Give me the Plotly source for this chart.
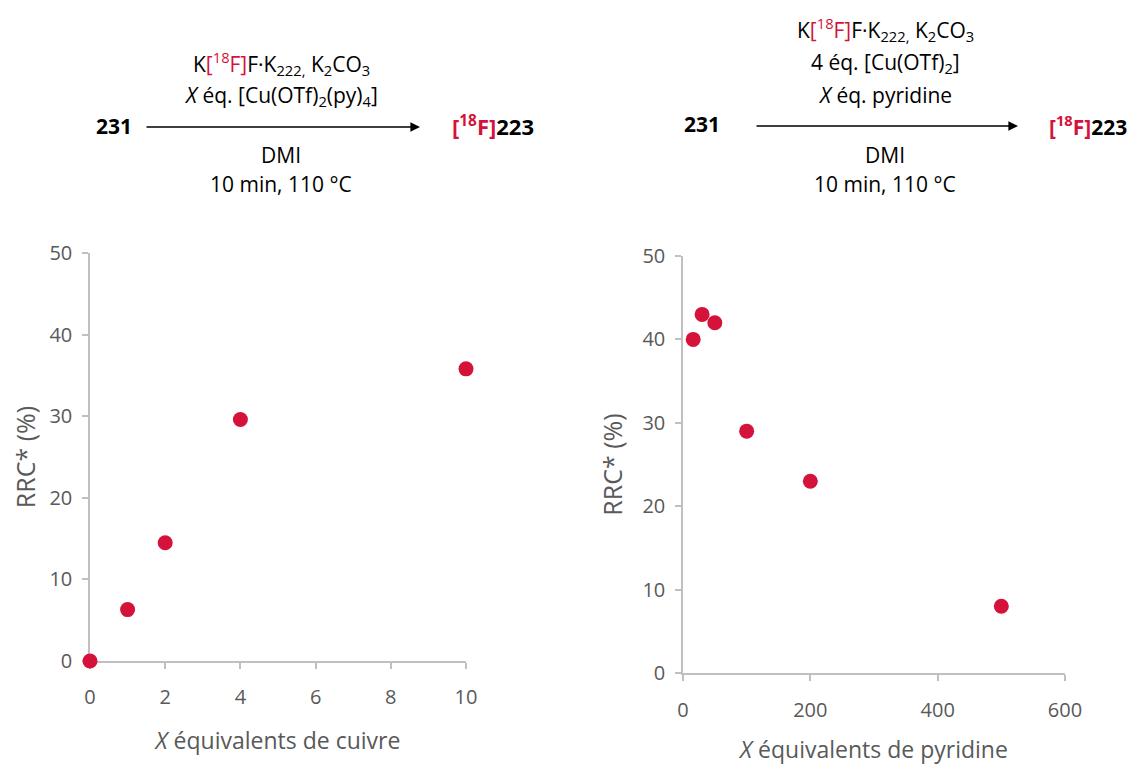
import plotly.graph_objects as go

W, H = 1138, 764
OFF = 8  # page body margin

# Data
cu_eq = [0, 1, 2, 4, 10]
cu_rrc = [0, 6.3, 14.5, 29.6, 35.8]
py_eq = [16, 30, 50, 100, 200, 500]
py_rrc = [40, 43, 42, 29, 23, 8]

x1_ticks = [0, 2, 4, 6, 8, 10]
x2_ticks = [0, 200, 400, 600]
y_ticks = [0, 10, 20, 30, 40, 50]

RED = "#d4123a"
GREY_TXT = "#595959"
AX = "#c0c0c0"
FONT = "Open Sans"

def px(x):
    return (x - OFF) / W

def py(y):
    return 1 - (y - OFF) / H

fig = go.Figure()
fig.add_trace(go.Scatter(x=cu_eq, y=cu_rrc, mode="markers",
                         marker=dict(color=RED, size=15), cliponaxis=False,
                         xaxis="x", yaxis="y", showlegend=False))
fig.add_trace(go.Scatter(x=py_eq, y=py_rrc, mode="markers",
                         marker=dict(color=RED, size=15), cliponaxis=False,
                         xaxis="x2", yaxis="y2", showlegend=False))

common_ax = dict(showgrid=False, zeroline=False, showline=True, linecolor=AX,
                 linewidth=1.5, ticks="outside", tickcolor=AX, ticklen=6,
                 tickwidth=1.5, automargin=False, layer="below traces",
                 tickfont=dict(size=20, color=GREY_TXT, family=FONT))

XT = dict(size=23, color=GREY_TXT, family=FONT)
YT = dict(size=25, color=GREY_TXT, family=FONT)

fig.update_layout(
    width=W, height=H, margin=dict(l=0, r=0, t=0, b=0, autoexpand=False),
    plot_bgcolor="white", paper_bgcolor="white",
    font=dict(family=FONT, color="black"),
    xaxis=dict(domain=[px(90), px(466)], range=[0, 10], tickvals=x1_ticks,
               anchor="y", ticklabelstandoff=11,
               title=dict(text="<i>X</i> équivalents de cuivre", standoff=24, font=XT),
               **common_ax),
    yaxis=dict(domain=[py(661), py(253)], range=[0, 50], tickvals=y_ticks,
               anchor="x", ticklabelstandoff=6,
               title=dict(text="RRC* (%)", standoff=19, font=YT),
               **common_ax),
    xaxis2=dict(domain=[px(683), px(1065)], range=[0, 600], tickvals=x2_ticks,
                anchor="y2", ticklabelstandoff=12,
                title=dict(text="<i>X</i> équivalents de pyridine", standoff=20, font=XT),
                **common_ax),
    yaxis2=dict(domain=[py(673), py(256)], range=[0, 50], tickvals=y_ticks,
                anchor="x2", ticklabelstandoff=6,
                title=dict(text="RRC* (%)", standoff=13, font=YT),
                **common_ax),
)

F18 = f'<span style="color:{RED}">[<sup>18</sup>F]</span>'
reagent = f'K{F18}F·K<sub>222,</sub> K<sub>2</sub>CO<sub>3</sub>'

def txt(x, y, text, size=21, bold=False):
    if bold:
        text = f"<b>{text}</b>"
    fig.add_annotation(x=px(x), y=py(y), xref="paper", yref="paper",
                       text=text, showarrow=False, xanchor="center",
                       yanchor="middle", font=dict(size=size, family=FONT, color="black"))

def arrow(x0, x1, y):
    fig.add_annotation(x=px(x1), y=py(y), ax=-(x1 - x0), ay=0,
                       xref="paper", yref="paper", axref="pixel", ayref="pixel",
                       text="", showarrow=True, arrowhead=2, arrowsize=1.2,
                       arrowwidth=1.6, arrowcolor="black")

# Left scheme
txt(281, 63, reagent)
txt(281, 96, '<i>X</i> éq. [Cu(OTf)<sub>2</sub>(py)<sub>4</sub>]')
txt(114, 126, '231', size=21, bold=True)
arrow(145, 420, 127)
txt(493, 126, f'<b>{F18}223</b>', size=22)
txt(281, 155, 'DMI')
txt(281, 184, '10 min, 110 °C')

# Right scheme
txt(885, 30, reagent)
txt(885, 63, '4 éq. [Cu(OTf)<sub>2</sub>]')
txt(885, 95, '<i>X</i> éq. pyridine')
txt(702, 124, '231', size=21, bold=True)
arrow(755, 1018, 126)
txt(1088, 125, f'<b>{F18}223</b>', size=21)
txt(885, 155, 'DMI')
txt(885, 184, '10 min, 110 °C')

fig.write_html("out.html")
